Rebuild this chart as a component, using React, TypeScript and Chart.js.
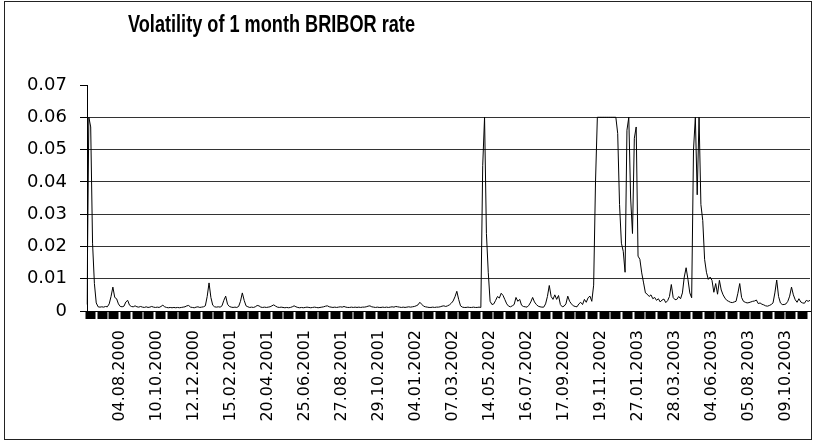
import React, { useEffect, useRef } from 'react';
import { Chart, registerables } from 'chart.js';

Chart.register(...registerables);

const chartTitle = 'Volatility of 1 month BRIBOR rate';

const tickLabels = [
  '04.08.2000', '10.10.2000', '12.12.2000', '15.02.2001', '20.04.2001', '25.06.2001',
  '27.08.2001', '29.10.2001', '04.01.2002', '07.03.2002', '14.05.2002', '16.07.2002',
  '17.09.2002', '19.11.2002', '27.01.2003', '28.03.2003', '04.06.2003', '05.08.2003',
  '09.10.2003',
];
const firstLabelIndex = 18;
const labelStep = 20;

const yMin = 0;
const yMax = 0.07;
const yStep = 0.01;

// Volatility values, in order (mid-2000 .. autumn 2003)
const volPart1 = [
  0.002, 0.06, 0.057, 0.021, 0.0085, 0.0025, 0.0013, 0.0012, 0.0013, 0.0012,
  0.0014, 0.0013, 0.0022, 0.0045, 0.0074, 0.0042, 0.0038, 0.0022, 0.0014, 0.0013,
  0.0015, 0.0028, 0.0033, 0.0018, 0.0014, 0.0013, 0.0016, 0.0013, 0.0012, 0.0014,
  0.0012, 0.0011, 0.0013, 0.0011, 0.0012, 0.0014, 0.0012, 0.0011, 0.0012, 0.0011,
  0.0014, 0.0018, 0.0013, 0.0011, 0.001, 0.0011, 0.001, 0.0011, 0.001, 0.0011,
  0.001, 0.0011, 0.0012, 0.0013, 0.0016, 0.0017, 0.0012, 0.0011, 0.001, 0.0012,
  0.0013, 0.0011, 0.0012, 0.0013, 0.0016, 0.0045, 0.0087, 0.0042, 0.0018, 0.0013,
  0.0012, 0.0013, 0.0012, 0.0016, 0.0033, 0.0046, 0.0021, 0.0014, 0.0012, 0.0011,
  0.0012, 0.0011, 0.0014, 0.003, 0.0056, 0.0033, 0.0016, 0.0013, 0.0011, 0.0012,
  0.0011, 0.0013, 0.0017, 0.0016, 0.0012, 0.0011, 0.0012, 0.0011, 0.0012, 0.0013,
];
const volPart2 = [
  0.0016, 0.0019, 0.0015, 0.0012, 0.0011, 0.0012, 0.0011, 0.001, 0.0011, 0.001,
  0.0011, 0.0013, 0.0016, 0.0013, 0.0011, 0.001, 0.0011, 0.001, 0.0011, 0.0012,
  0.0011, 0.001, 0.0011, 0.0012, 0.0011, 0.001, 0.0011, 0.0012, 0.0013, 0.0015,
  0.0016, 0.0013, 0.0012, 0.0011, 0.0012, 0.0011, 0.0012, 0.0013, 0.0012, 0.0014,
  0.0012, 0.0011, 0.0011, 0.0012, 0.0011, 0.0012, 0.0011, 0.0012, 0.0011, 0.0012,
  0.0012, 0.0013, 0.0015, 0.0016, 0.0013, 0.0012, 0.0011, 0.0012, 0.0011, 0.0011,
  0.0012, 0.0011, 0.0012, 0.0011, 0.0012, 0.0013, 0.0012, 0.0014, 0.0013, 0.0012,
  0.0011, 0.0012, 0.0011, 0.0012, 0.0013, 0.0012, 0.0013, 0.0014, 0.0016, 0.0019,
  0.0027, 0.0021, 0.0015, 0.0013, 0.0012, 0.0011, 0.0011, 0.0012, 0.0011, 0.0012,
  0.0012, 0.0013, 0.0015, 0.0016, 0.0014, 0.0016, 0.0019, 0.0024, 0.0031, 0.0044,
];
const volPart3 = [
  0.0061, 0.0036, 0.0016, 0.0012, 0.0011, 0.0011, 0.0012, 0.0011, 0.0011, 0.0012,
  0.0011, 0.0011, 0.0012, 0.0011, 0.045, 0.06, 0.024, 0.012, 0.003, 0.002,
  0.0022, 0.0033, 0.0045, 0.004, 0.0055, 0.0048, 0.0035, 0.0022, 0.0015, 0.0013,
  0.0016, 0.002, 0.0042, 0.003, 0.0036, 0.0018, 0.0014, 0.0013, 0.0012, 0.0018,
  0.0028, 0.0042, 0.0028, 0.002, 0.0015, 0.0013, 0.0012, 0.0012, 0.0022, 0.0045,
  0.0079, 0.0045, 0.0036, 0.005, 0.0036, 0.0048, 0.002, 0.0013, 0.0015, 0.0022,
  0.0046, 0.003, 0.0022, 0.0016, 0.0014, 0.0013, 0.0022, 0.0027, 0.002, 0.0036,
  0.0027, 0.0041, 0.0046, 0.003, 0.008, 0.04, 0.06, 0.06, 0.06, 0.06,
  0.06, 0.06, 0.06, 0.06, 0.06, 0.06, 0.06, 0.055, 0.033, 0.021,
  0.0185, 0.012, 0.056, 0.06, 0.035, 0.024, 0.0535, 0.057, 0.017, 0.016,
];
const volPart4 = [
  0.0118, 0.0087, 0.0056, 0.0052, 0.0045, 0.005, 0.0038, 0.0042, 0.0033, 0.0038,
  0.0028, 0.0034, 0.0037, 0.0026, 0.0032, 0.0045, 0.0082, 0.0042, 0.0035, 0.0036,
  0.0045, 0.0038, 0.0056, 0.0105, 0.0134, 0.0098, 0.0056, 0.0041, 0.05, 0.06,
  0.036, 0.06, 0.033, 0.028, 0.016, 0.012, 0.0098, 0.0105, 0.0095, 0.0058,
  0.0085, 0.0052, 0.0095, 0.0065, 0.005, 0.004, 0.0033, 0.003, 0.0027, 0.0026,
  0.0028, 0.003, 0.0055, 0.0085, 0.0042, 0.003, 0.0027, 0.0025, 0.0026, 0.0028,
  0.003, 0.0031, 0.0034, 0.0023, 0.0025, 0.0021, 0.0019, 0.0016, 0.0015, 0.0017,
  0.002, 0.0025, 0.0056, 0.0096, 0.0045, 0.0025, 0.002, 0.002, 0.0022, 0.003,
  0.0046, 0.0074, 0.005, 0.0035, 0.0027, 0.0038, 0.0028, 0.0025, 0.0024, 0.0033,
  0.003, 0.0033,
];

const volatility = [...volPart1, ...volPart2, ...volPart3, ...volPart4];

export default function App() {
  const ref = useRef<HTMLCanvasElement>(null);

  useEffect(() => {
    const labels = volatility.map((_, i) => {
      const k = (i - firstLabelIndex) / labelStep;
      return Number.isInteger(k) && k >= 0 && k < tickLabels.length ? tickLabels[k] : '';
    });

    const titlePlugin = {
      id: 'offsetTitle',
      afterDraw(chart: any) {
        const ctx = chart.ctx as CanvasRenderingContext2D;
        ctx.save();
        ctx.font = "bold 23px 'Liberation Sans', Arial, sans-serif";
        ctx.fillStyle = '#000';
        ctx.textAlign = 'center';
        ctx.textBaseline = 'alphabetic';
        const w = ctx.measureText(chartTitle).width;
        const targetWidth = 287;
        ctx.translate(271.5, 31.5);
        ctx.scale(targetWidth / w, 1);
        ctx.fillText(chartTitle, 0, 0);
        ctx.restore();
      },
    };

    const chart = new Chart(ref.current!, {
      type: 'line',
      data: {
        labels,
        datasets: [
          {
            data: volatility,
            borderColor: '#000',
            borderWidth: 1,
            pointRadius: 0,
            tension: 0,
            fill: false,
          },
        ],
      },
      options: {
        responsive: false,
        animation: false,
        devicePixelRatio: 1,
        layout: { padding: { top: 85, right: 5, bottom: 0, left: 0 } },
        plugins: {
          legend: { display: false },
          title: { display: false },
          tooltip: { enabled: false },
        },
        scales: {
          x: {
            type: 'category',
            position: 'bottom',
            weight: 1,
            grid: { display: false, drawTicks: false },
            border: { display: false },
            ticks: {
              autoSkip: false,
              maxRotation: 90,
              minRotation: 90,
              padding: 11,
              color: '#000',
              font: { family: 'DejaVu Sans', size: 16 },
            },
            afterFit: (s: any) => {
              s.height = 124;
              s.paddingLeft = 0;
              s.paddingRight = 0;
            },
          },
          band: {
            type: 'linear',
            position: 'bottom',
            weight: 0,
            min: -1.3,
            max: 60.65,
            afterBuildTicks: (s: any) => {
              const t = [];
              for (let v = -1; v <= 60; v++) t.push({ value: v });
              s.ticks = t;
            },
            ticks: { display: false },
            grid: { drawOnChartArea: false, tickLength: 8, tickWidth: 10, tickColor: '#000' },
            border: { display: true, color: '#000', width: 1 },
            afterFit: (s: any) => {
              s.height = 8;
              s.paddingLeft = 0;
              s.paddingRight = 0;
            },
          },
          y: {
            min: yMin,
            max: yMax,
            ticks: {
              stepSize: yStep,
              padding: 13,
              color: '#000',
              font: { family: 'DejaVu Sans', size: 18 },
              callback: (v: any) => (Number(v) === 0 ? '0' : Number(v).toFixed(2)),
            },
            grid: {
              color: (c: any) => (c.tick && c.tick.value > 0.065 ? 'rgba(0,0,0,0)' : '#333'),
              tickColor: '#000',
              tickLength: 7,
            },
            border: { display: true, color: '#000' },
            afterFit: (s: any) => {
              s.width = 87;
            },
          },
        },
      },
      plugins: [titlePlugin],
    } as any);

    return () => chart.destroy();
  }, []);

  return (
    <div style={{ position: 'fixed', left: 0, top: 0, width: 815, height: 443, background: '#fff' }}>
      <canvas
        ref={ref}
        width={815}
        height={443}
        style={{ position: 'absolute', left: 0, top: 0, width: 815, height: 443 }}
      />
      <div
        style={{
          position: 'absolute',
          left: 4,
          top: 1,
          width: 808,
          height: 439,
          border: '1px solid #222',
          boxSizing: 'border-box',
          pointerEvents: 'none',
        }}
      />
    </div>
  );
}
